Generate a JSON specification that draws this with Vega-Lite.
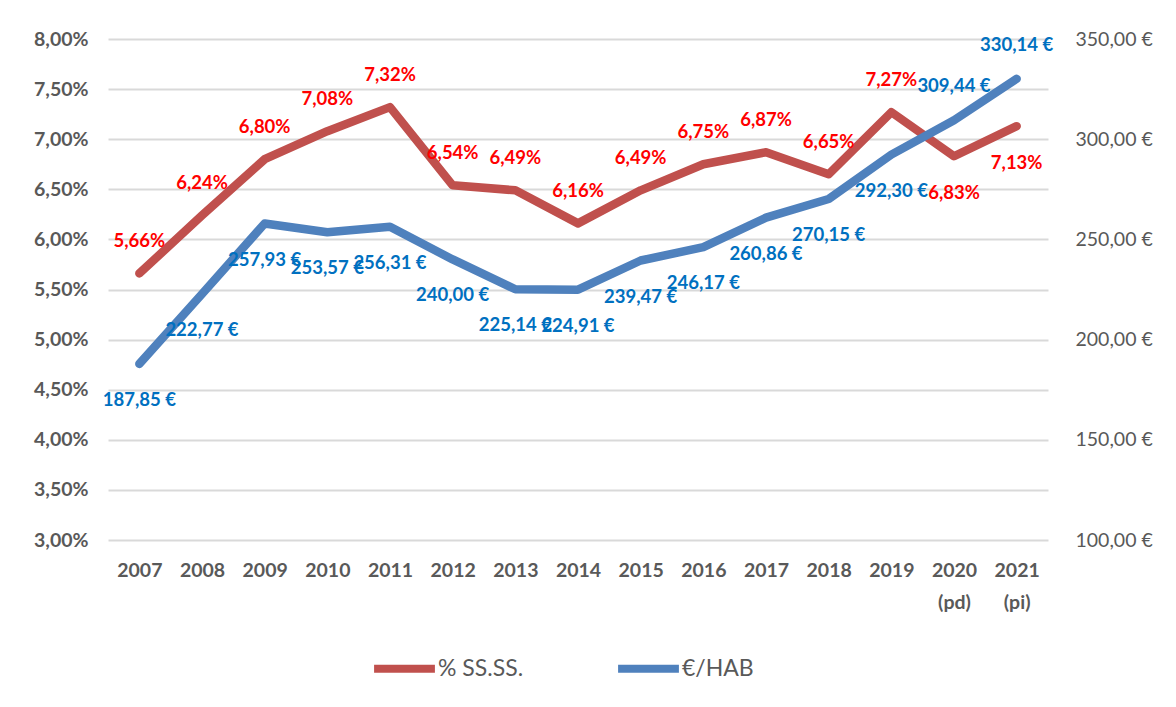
{
  "$schema": "https://vega.github.io/schema/vega-lite/v6.json",
  "width": 940,
  "height": 501,
  "autosize": {"type": "none"},
  "padding": {"left": 108, "top": 39, "right": 128, "bottom": 167},
  "background": "white",
  "config": {
    "locale": {"number": {"decimal": ",", "thousands": ".", "grouping": [3], "currency": ["", " €"]}},
    "view": {"stroke": null},
    "font": "Lato",
    "axis": {"labelFont": "Lato", "labelColor": "#595959", "labelFontSize": 19.5, "title": null, "domain": false, "ticks": false}
  },
  "data": {
    "values": [
      {"year": "2007", "pct": 0.0566, "eur": 187.85},
      {"year": "2008", "pct": 0.0624, "eur": 222.77},
      {"year": "2009", "pct": 0.0680, "eur": 257.93},
      {"year": "2010", "pct": 0.0708, "eur": 253.57},
      {"year": "2011", "pct": 0.0732, "eur": 256.31},
      {"year": "2012", "pct": 0.0654, "eur": 240.00},
      {"year": "2013", "pct": 0.0649, "eur": 225.14},
      {"year": "2014", "pct": 0.0616, "eur": 224.91},
      {"year": "2015", "pct": 0.0649, "eur": 239.47},
      {"year": "2016", "pct": 0.0675, "eur": 246.17},
      {"year": "2017", "pct": 0.0687, "eur": 260.86},
      {"year": "2018", "pct": 0.0665, "eur": 270.15},
      {"year": "2019", "pct": 0.0727, "eur": 292.30},
      {"year": "2020 (pd)", "pct": 0.0683, "eur": 309.44},
      {"year": "2021 (pi)", "pct": 0.0713, "eur": 330.14}
    ]
  },
  "encoding": {
    "x": {
      "field": "year", "type": "ordinal", "sort": null,
      "scale": {"type": "point", "padding": 0.5},
      "axis": {"orient": "bottom", "labelAngle": 0, "labelPadding": 21, "labelFontWeight": "bold", "labelExpr": "split(datum.label, ' ')", "labelLineHeight": 32, "grid": false}
    }
  },
  "layer": [
    {
      "encoding": {
        "y": {
          "field": "pct", "type": "quantitative",
          "scale": {"domain": [0.03, 0.08], "nice": false, "zero": false},
          "axis": {"orient": "left", "values": [0.03, 0.035, 0.04, 0.045, 0.05, 0.055, 0.06, 0.065, 0.07, 0.075, 0.08], "format": ".2%", "labelPadding": 20, "labelFontWeight": "bold", "grid": true, "gridColor": "#d9d9d9", "gridWidth": 2}
        }
      },
      "layer": [
        {
          "mark": {"type": "line", "strokeWidth": 8.5, "strokeJoin": "round", "strokeCap": "round"},
          "encoding": {
            "color": {
              "datum": "% SS.SS.",
              "scale": {"domain": ["% SS.SS.", "€/HAB"], "range": ["#C0504D", "#4F81BD"]},
              "legend": {"orient": "none", "legendX": 262, "legendY": 595, "direction": "horizontal", "title": null, "symbolType": "stroke", "symbolStrokeWidth": 8, "symbolSize": 3700, "labelFontSize": 23, "labelColor": "#595959", "labelFont": "Lato", "columnPadding": 78, "labelOffset": -1}
            }
          }
        },
        {
          "transform": [{"filter": "indexof(datum.year, '(') < 0"}],
          "mark": {"type": "text", "dy": -32, "font": "Lato", "fontWeight": "bold", "fontSize": 18.5, "color": "#FF0000", "baseline": "middle"},
          "encoding": {"text": {"field": "pct", "type": "quantitative", "format": ".2%"}}
        },
        {
          "transform": [{"filter": "indexof(datum.year, '(') >= 0"}],
          "mark": {"type": "text", "dy": 37, "font": "Lato", "fontWeight": "bold", "fontSize": 18.5, "color": "#FF0000", "baseline": "middle"},
          "encoding": {"text": {"field": "pct", "type": "quantitative", "format": ".2%"}}
        }
      ]
    },
    {
      "encoding": {
        "y": {
          "field": "eur", "type": "quantitative",
          "scale": {"domain": [100, 350], "nice": false, "zero": false},
          "axis": {"orient": "right", "values": [100, 150, 200, 250, 300, 350], "format": "$.2f", "labelPadding": 27, "labelFontWeight": "normal", "grid": false}
        }
      },
      "layer": [
        {
          "mark": {"type": "line", "strokeWidth": 8.5, "strokeJoin": "round", "strokeCap": "round"},
          "encoding": {"color": {"datum": "€/HAB"}}
        },
        {
          "transform": [{"filter": "indexof(datum.year, '(') < 0"}],
          "mark": {"type": "text", "dy": 36, "font": "Lato", "fontWeight": "bold", "fontSize": 18.5, "color": "#0070C0", "baseline": "middle"},
          "encoding": {"text": {"field": "eur", "type": "quantitative", "format": "$.2f"}}
        },
        {
          "transform": [{"filter": "indexof(datum.year, '(') >= 0"}],
          "mark": {"type": "text", "dy": -34, "font": "Lato", "fontWeight": "bold", "fontSize": 18.5, "color": "#0070C0", "baseline": "middle"},
          "encoding": {"text": {"field": "eur", "type": "quantitative", "format": "$.2f"}}
        }
      ]
    }
  ],
  "resolve": {"scale": {"y": "independent"}}
}
